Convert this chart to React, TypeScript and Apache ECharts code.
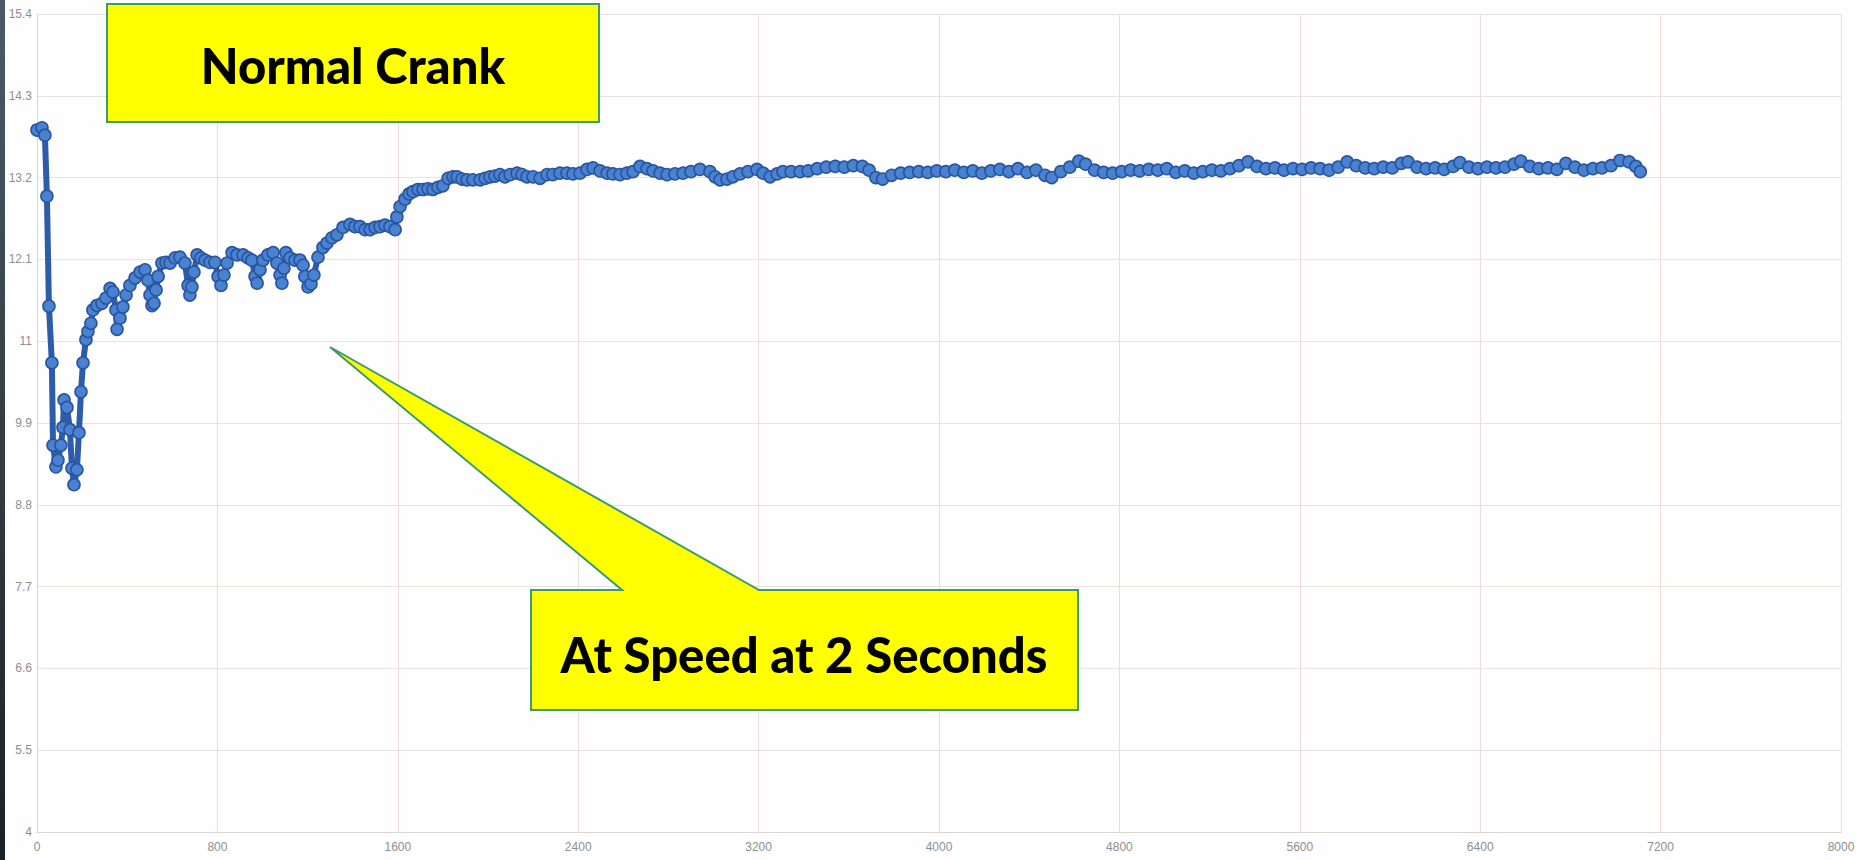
import React, { useEffect, useRef } from "react";
import * as echarts from "echarts";

// Crank voltage readings: [time (ms), volts]
const crankDip: [number, number][] = [
  [0, 13.84], [22, 13.87], [35, 13.77], [44, 12.95], [53, 11.47], [66, 10.71], [71, 9.6],
  [84, 9.31], [93, 9.4], [106, 9.6], [115, 9.84], [120, 10.21], [133, 10.11], [146, 9.81],
  [155, 9.29], [164, 9.07], [177, 9.27], [186, 9.77], [195, 10.32], [204, 10.71], [217, 11.02],
  [226, 11.13], [239, 11.24], [248, 11.42], [266, 11.48], [288, 11.51], [306, 11.58],
  [324, 11.71], [337, 11.66], [350, 11.42], [355, 11.16], [368, 11.31], [381, 11.46],
  [395, 11.62], [412, 11.75], [435, 11.85], [457, 11.93], [479, 11.96], [492, 11.82],
  [501, 11.62], [510, 11.48], [519, 11.51], [528, 11.69], [537, 11.87], [554, 12.05],
];

const recovery: [number, number][] = [
  [572, 12.06], [590, 12.05], [612, 12.12], [634, 12.13], [656, 12.05], [670, 11.75],
  [678, 11.62], [687, 11.73], [696, 11.93], [710, 12.16], [727, 12.12], [745, 12.09],
  [767, 12.06], [789, 12.06], [803, 11.87], [816, 11.75], [829, 11.89], [843, 12.05],
  [865, 12.19], [887, 12.16], [914, 12.16], [936, 12.12], [953, 12.09], [967, 11.87],
  [976, 11.78], [989, 11.96], [1002, 12.09], [1024, 12.16], [1047, 12.19], [1064, 12.05],
  [1078, 11.89], [1086, 11.78], [1095, 11.98], [1104, 12.19], [1122, 12.12], [1144, 12.09],
  [1166, 12.09], [1180, 12.02], [1188, 11.87], [1202, 11.73], [1215, 11.77], [1228, 11.89],
  [1246, 12.13], [1268, 12.26], [1286, 12.32], [1308, 12.39], [1330, 12.43], [1357, 12.53],
  [1388, 12.57], [1410, 12.54], [1432, 12.54], [1455, 12.5], [1477, 12.5], [1499, 12.53],
  [1521, 12.54], [1543, 12.56], [1565, 12.54], [1588, 12.5], [1596, 12.67], [1610, 12.81],
  [1632, 12.91], [1650, 12.98], [1667, 13.01], [1690, 13.04], [1712, 13.04], [1734, 13.05],
  [1756, 13.04], [1778, 13.07], [1800, 13.09], [1823, 13.19], [1845, 13.21], [1863, 13.21],
  [1885, 13.18], [1907, 13.17], [1933, 13.17], [1965, 13.17], [1987, 13.19], [2009, 13.21],
  [2031, 13.22], [2053, 13.24], [2075, 13.21], [2098, 13.24], [2129, 13.26], [2151, 13.24],
  [2173, 13.21], [2200, 13.21], [2231, 13.19], [2262, 13.24], [2288, 13.24], [2319, 13.26],
  [2350, 13.26], [2377, 13.25], [2408, 13.26], [2439, 13.31], [2466, 13.33], [2497, 13.29],
  [2528, 13.26], [2554, 13.25], [2585, 13.24], [2616, 13.26], [2643, 13.28], [2674, 13.35],
  [2705, 13.32], [2732, 13.29], [2763, 13.26], [2794, 13.24], [2829, 13.25], [2865, 13.26],
  [2900, 13.28], [2940, 13.31], [2984, 13.28], [3007, 13.21], [3029, 13.17], [3060, 13.18],
  [3086, 13.21], [3118, 13.25], [3153, 13.28], [3193, 13.31], [3220, 13.26], [3251, 13.21],
  [3282, 13.25], [3308, 13.28], [3344, 13.28], [3384, 13.28],
];

const plateau: [number, number][] = [
  [3420, 13.29], [3460, 13.32], [3500, 13.34], [3540, 13.35], [3580, 13.34], [3620, 13.36],
  [3660, 13.35], [3690, 13.3], [3720, 13.2], [3750, 13.18], [3790, 13.23], [3830, 13.26],
  [3870, 13.27], [3910, 13.28], [3950, 13.27], [3990, 13.29], [4030, 13.28], [4070, 13.3],
  [4110, 13.27], [4150, 13.29], [4190, 13.26], [4230, 13.29], [4270, 13.31], [4310, 13.28],
  [4350, 13.32], [4390, 13.27], [4430, 13.3], [4470, 13.23], [4500, 13.2], [4540, 13.28],
  [4580, 13.34], [4620, 13.42], [4650, 13.38], [4690, 13.3], [4730, 13.27], [4770, 13.26],
  [4810, 13.28], [4850, 13.3], [4890, 13.29], [4930, 13.31], [4970, 13.3], [5010, 13.32],
  [5050, 13.27], [5090, 13.29], [5130, 13.26], [5170, 13.28], [5210, 13.3], [5250, 13.29],
  [5290, 13.32], [5330, 13.36], [5370, 13.41], [5410, 13.35], [5450, 13.32], [5490, 13.33],
  [5530, 13.3], [5570, 13.32], [5610, 13.31], [5650, 13.33], [5690, 13.32], [5730, 13.3],
  [5770, 13.34], [5810, 13.41], [5850, 13.36], [5890, 13.33], [5930, 13.32], [5970, 13.34],
  [6010, 13.33], [6050, 13.39], [6080, 13.41], [6120, 13.34], [6160, 13.32], [6200, 13.33],
  [6240, 13.31], [6280, 13.35], [6310, 13.4], [6350, 13.34], [6390, 13.32], [6430, 13.34],
  [6470, 13.33], [6510, 13.34], [6550, 13.38], [6580, 13.42], [6620, 13.35], [6660, 13.32],
  [6700, 13.33], [6740, 13.31], [6780, 13.39], [6820, 13.34], [6860, 13.3], [6900, 13.32],
  [6940, 13.33], [6980, 13.36], [7020, 13.43], [7060, 13.41], [7090, 13.35], [7110, 13.28],
];

const yTickLabels = ["4", "5.5", "6.6", "7.7", "8.8", "9.9", "11", "12.1", "13.2", "14.3", "15.4"];
const xTickLabels = ["0", "800", "1600", "2400", "3200", "4000", "4800", "5600", "6400", "7200", "8000"];
const noteTop = "Normal Crank";
const noteBottom = "At Speed at 2 Seconds";

export default function App() {
  const ref = useRef<HTMLDivElement>(null);
  useEffect(() => {
    if (!ref.current) return;
    const chart = echarts.init(ref.current, null, { renderer: "svg" });
    const data = [...crankDip, ...recovery, ...plateau];
    const green = "#3c9a6c";
    const yellow = "#ffff00";
    const labelFont = "'Liberation Sans Narrow', 'Arial Narrow', 'Liberation Sans', sans-serif";
    chart.setOption({
      animation: false,
      backgroundColor: "#fefefe",
      grid: { left: 37, right: 31, top: 14, bottom: 28, containLabel: false },
      xAxis: {
        type: "value",
        min: 0,
        max: 8000,
        interval: 800,
        axisLine: { show: true, lineStyle: { color: "#dcd6d3", width: 1 } },
        axisTick: { show: false },
        splitLine: { show: true, lineStyle: { color: "#eedcd6", width: 1 } },
        axisLabel: {
          color: "#8f8f8f",
          fontSize: 12,
          margin: 9,
          fontFamily: labelFont,
          formatter: (v: number) => xTickLabels[Math.round(v / 800)] ?? "",
        },
      },
      yAxis: {
        type: "value",
        min: 4.4,
        max: 15.4,
        interval: 1.1,
        axisLine: { show: true, lineStyle: { color: "#dcd6d3", width: 1 } },
        axisTick: { show: false },
        splitLine: { show: true, lineStyle: { color: "#e9e3e0", width: 1 } },
        axisLabel: {
          color: "#8f8f8f",
          fontSize: 12,
          margin: 5,
          fontFamily: labelFont,
          formatter: (v: number) => yTickLabels[Math.round((v - 4.4) / 1.1)] ?? "",
        },
      },
      series: [
        {
          type: "line",
          data,
          symbol: "circle",
          symbolSize: 12,
          showSymbol: true,
          showAllSymbol: true,
          lineStyle: { color: "#2d5cab", width: 6 },
          itemStyle: { color: "#4a82d2", borderColor: "#2a559f", borderWidth: 1.6 },
          z: 3,
        },
      ],
      graphic: [
        {
          type: "rect",
          shape: { x: 0, y: 0, width: 5, height: 860 },
          style: {
            fill: new echarts.graphic.LinearGradient(0, 0, 0, 1, [
              { offset: 0, color: "#4a5b66" },
              { offset: 1, color: "#1b2126" },
            ]),
          },
          z: 10,
        },
        {
          type: "rect",
          shape: { x: 107, y: 4, width: 492, height: 118 },
          style: { fill: yellow, stroke: green, lineWidth: 2 },
          z: 10,
        },
        {
          type: "text",
          x: 353,
          y: 65,
          style: {
            text: noteTop,
            fill: "#000",
            font: "900 49px Lato, 'DejaVu Sans', sans-serif",
            textAlign: "center",
            textVerticalAlign: "middle",
          },
          z: 11,
        },
        {
          type: "polygon",
          shape: {
            points: [
              [531, 590], [622, 590], [330, 347], [759, 590],
              [1078, 590], [1078, 710], [531, 710],
            ],
          },
          style: { fill: yellow, stroke: green, lineWidth: 2 },
          z: 10,
        },
        {
          type: "text",
          x: 804,
          y: 654,
          style: {
            text: noteBottom,
            fill: "#000",
            font: "900 49px Lato, 'DejaVu Sans', sans-serif",
            textAlign: "center",
            textVerticalAlign: "middle",
          },
          z: 11,
        },
      ],
    });
    return () => chart.dispose();
  }, []);
  return (
    <div
      ref={ref}
      style={{ position: "absolute", left: 0, top: 0, width: 1872, height: 860, background: "#fefefe" }}
    />
  );
}
